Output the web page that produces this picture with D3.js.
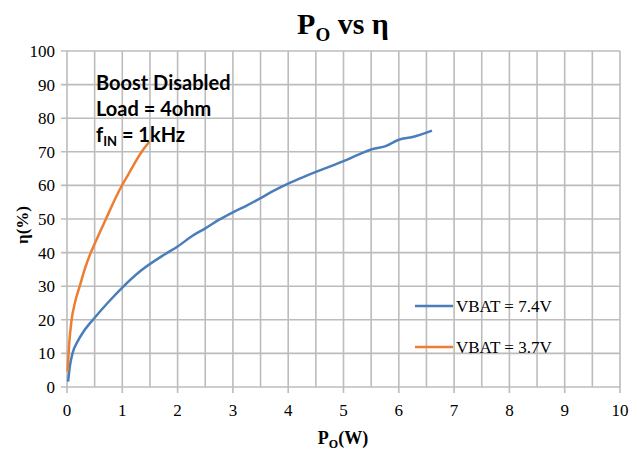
<!DOCTYPE html>
<html><head><meta charset="utf-8">
<script src="https://cdn.jsdelivr.net/npm/d3@7"></script>
<style>body{margin:0;background:#fff}svg{display:block}</style>
</head><body>
<svg id="c" width="641" height="452"></svg>
<script>
const blueX = [0.02,0.05,0.1,0.2,0.3,0.5,0.75,1.0,1.35,1.77,2.0,2.25,2.5,2.75,3.0,3.25,3.5,3.75,4.0,4.25,4.5,4.75,5.0,5.25,5.5,5.75,6.0,6.25,6.6];
const blueY = [1.6,6,10,13.8,16.5,20.6,25.3,29.6,34.8,39.5,41.8,44.8,47.2,49.8,52,54,56.2,58.5,60.5,62.3,64,65.6,67.2,69,70.7,71.6,73.6,74.4,76.3];
const orangeX = [0.01,0.04,0.08,0.15,0.23,0.33,0.43,0.5,0.6,0.71,0.8,0.9,1.0,1.1,1.22,1.35,1.49];
const orangeY = [4.6,13,19.6,25.5,30,35.5,40,42.6,46.3,50.2,53.5,57,60.2,63,66.5,70,73];
const seriesNames = ["VBAT = 7.4V","VBAT = 3.7V"];
const xTicks = [0,1,2,3,4,5,6,7,8,9,10];
const yTicks = [0,10,20,30,40,50,60,70,80,90,100];
const xGrid = d3.range(0,10.01,0.5);
const notes = ["Boost Disabled","Load = 4ohm"];

const svg = d3.select("#c");
const x = d3.scaleLinear().domain([0,10]).range([67,620]);
const y = d3.scaleLinear().domain([0,100]).range([387,51]);
const grid = "#bcbcbc";
const serif = "'Liberation Serif','Times New Roman',serif";

const g = svg.append("g");
g.selectAll(".vg").data(xGrid).enter().append("line")
  .attr("x1",d=>x(d)).attr("x2",d=>x(d)).attr("y1",y(0)).attr("y2",y(100))
  .attr("stroke",grid).attr("stroke-width",1.6);
g.selectAll(".hg").data(yTicks).enter().append("line")
  .attr("x1",x(0)-6).attr("x2",x(10)).attr("y1",d=>y(d)).attr("y2",d=>y(d))
  .attr("stroke",grid).attr("stroke-width",1.6);
g.selectAll(".xt").data(xTicks).enter().append("line")
  .attr("x1",d=>x(d)).attr("x2",d=>x(d)).attr("y1",y(0)).attr("y2",y(0)+6)
  .attr("stroke",grid).attr("stroke-width",1.6);

// axis labels
svg.selectAll(".yl").data(yTicks).enter().append("text")
  .attr("x",55).attr("y",d=>y(d)+6).attr("text-anchor","end")
  .attr("font-family",serif).attr("font-size",17).attr("fill","#000").text(d=>d);
svg.selectAll(".xl").data(xTicks).enter().append("text")
  .attr("x",d=>x(d)).attr("y",416).attr("text-anchor","middle")
  .attr("font-family",serif).attr("font-size",17).attr("fill","#000").text(d=>d);

// title
const t = svg.append("text").attr("x",343).attr("y",34).attr("text-anchor","middle")
  .attr("font-family",serif).attr("font-weight","bold").attr("font-size",30);
t.append("tspan").text("P");
t.append("tspan").attr("font-size",19).attr("dy",7).text("O");
t.append("tspan").attr("dy",-7).text(" vs η");

// x label
const xl = svg.append("text").attr("x",343).attr("y",444).attr("text-anchor","middle")
  .attr("font-family",serif).attr("font-weight","bold").attr("font-size",18);
xl.append("tspan").text("P");
xl.append("tspan").attr("font-size",12).attr("dy",4).text("O");
xl.append("tspan").attr("dy",-4).text("(W)");

// y label
svg.append("text").attr("transform","translate(28,225) rotate(-90)").attr("text-anchor","middle")
  .attr("font-family",serif).attr("font-weight","bold").attr("font-size",17).text("η(%)");

// lines
const line = d3.line().x(d=>x(d[0])).y(d=>y(d[1])).curve(d3.curveMonotoneX);
const series = [
  {name:seriesNames[0], color:"#4a7ebb", pts:d3.zip(blueX,blueY)},
  {name:seriesNames[1], color:"#ed7d31", pts:d3.zip(orangeX,orangeY)}
];
series.forEach(s=>{
  svg.append("path").datum(s.pts).attr("d",line).attr("fill","none")
    .attr("stroke",s.color).attr("stroke-width",2.5).attr("stroke-linejoin","round");
});

// annotation
const sans = "Lato, 'Open Sans', sans-serif";
notes.forEach((n,i)=>{
  svg.append("text").attr("x",96).attr("y",90+i*26).attr("font-family",sans)
    .attr("font-weight","bold").attr("font-size",20).attr("fill","#000").text(n);
});
const f = svg.append("text").attr("x",96).attr("y",142).attr("font-family",sans)
  .attr("font-weight","bold").attr("font-size",20).attr("fill","#000");
f.append("tspan").text("f");
f.append("tspan").attr("font-size",13).attr("dy",4).text("IN");
f.append("tspan").attr("dy",-4).text(" = 1kHz");

// legend
series.forEach((s,i)=>{
  const ly = 306 + i*41;
  svg.append("line").attr("x1",415).attr("x2",453).attr("y1",ly).attr("y2",ly)
    .attr("stroke",s.color).attr("stroke-width",2.5);
  svg.append("text").attr("x",456).attr("y",ly+6).attr("font-family",serif)
    .attr("font-size",17).attr("fill","#000").text(s.name);
});
</script>
</body></html>
